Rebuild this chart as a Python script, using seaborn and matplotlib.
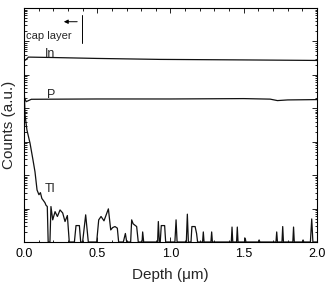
import matplotlib
matplotlib.use("Agg")
import matplotlib.pyplot as plt
import matplotlib.ticker as mticker
import seaborn as sns
import pandas as pd
import numpy as np

# ---- data ----
in_depth = [0.0, 0.01, 0.03, 0.2, 0.5, 0.93, 1.5, 2.0]
in_counts = [2.9e5, 2.75e5, 3.4e5, 3.3e5, 3.1e5, 2.9e5, 2.8e5, 2.7e5]

p_depth = [0.0, 0.015, 0.05, 0.5, 1.0, 1.5, 1.68, 1.73, 1.80, 2.0]
p_counts = [22000, 15800, 18600, 19000, 19000, 19500, 18800, 17000, 17800, 18200]

tl_depth = [0.000, 0.004, 0.007, 0.020, 0.041, 0.061, 0.075, 0.089, 0.102, 0.112,
            0.122, 0.130, 0.143, 0.150, 0.159, 0.165, 0.177, 0.184, 0.196, 0.212,
            0.228, 0.246, 0.264, 0.280, 0.296, 0.309, 0.344, 0.355, 0.378, 0.387,
            0.400, 0.421, 0.439, 0.496, 0.510, 0.526, 0.546, 0.576, 0.592, 0.605,
            0.621, 0.637, 0.646, 0.678, 0.692, 0.701, 0.728, 0.735, 0.745, 0.769,
            0.780, 0.806, 0.810, 0.817, 0.912, 0.917, 0.924, 0.930, 0.937, 0.960,
            0.967, 1.030, 1.038, 1.045, 1.108, 1.115, 1.122, 1.140, 1.146, 1.168,
            1.178, 1.185, 1.219, 1.224, 1.229, 1.276, 1.281, 1.286, 1.415, 1.420,
            1.425, 1.451, 1.456, 1.461, 1.505, 1.510, 1.515, 1.600, 1.605, 1.610,
            1.720, 1.725, 1.730, 1.761, 1.766, 1.771, 1.835, 1.840, 1.845, 1.900,
            1.905, 1.910, 1.955, 1.964, 1.972, 2.000]
tl_counts = [79000, 16000, 6300, 2240, 910, 290, 126, 36, 26, 30,
             20, 18, 15, 12.6, 11.5, 1, 1, 11.5, 4.6, 8.1,
             5.8, 9.1, 7.4, 4.1, 6.2, 1, 1, 3.1, 3.1, 1,
             1, 6.5, 1, 1, 4.6, 5.8, 4.3, 9.8, 2.3, 2.7,
             2.9, 2.6, 1, 1, 1.8, 1, 1, 4.6, 3.5, 2.9,
             1, 1, 2.0, 1, 1, 4.1, 1, 1, 3.1, 3.1,
             1, 1, 4.6, 1, 1, 6.8, 1, 1, 2.9, 2.9,
             1.8, 1, 1, 2.0, 1, 1, 2.0, 1, 1, 2.8,
             1, 1, 2.8, 1, 1, 1.3, 1, 1, 1.15, 1,
             1, 2.0, 1, 1, 2.9, 1, 1, 2.8, 1, 1,
             1.15, 1, 1, 4.9, 1, 1]

xtick_values = [0.0, 0.5, 1.0, 1.5, 2.0]
xtick_labels = ["0.0", "0.5", "1.0", "1.5", "2.0"]

sns.set_style("ticks")
plt.rcParams["font.family"] = ["Liberation Sans", "DejaVu Sans"]

fig = plt.figure(figsize=(3.27, 2.89), dpi=100)
ax = fig.add_axes([0.0734, 0.1626, 0.896, 0.8097])

df_in = pd.DataFrame({"depth": in_depth, "counts": in_counts})
df_p = pd.DataFrame({"depth": p_depth, "counts": p_counts})
df_tl = pd.DataFrame({"depth": tl_depth, "counts": tl_counts})

for df in (df_in, df_p, df_tl):
    sns.lineplot(data=df, x="depth", y="counts", ax=ax, color="#111111",
                 linewidth=0.9, estimator=None, sort=False)

ax.set_yscale("log")
ax.set_ylim(1, 1e7)
ax.set_xlim(0, 2.0)

ax.set_xticks(xtick_values)
ax.set_xticklabels(xtick_labels)
ax.xaxis.set_minor_locator(mticker.MultipleLocator(0.1))
ax.yaxis.set_major_locator(mticker.LogLocator(base=10, numticks=20))
ax.yaxis.set_minor_locator(mticker.LogLocator(base=10, subs=np.arange(2, 10), numticks=20))
ax.yaxis.set_major_formatter(mticker.NullFormatter())
ax.yaxis.set_minor_formatter(mticker.NullFormatter())

ax.tick_params(which="both", direction="in", top=True, right=True, colors="black",
               width=0.6)
ax.tick_params(which="major", length=3.5, labelsize=9, pad=4)
ax.tick_params(which="minor", length=1.8)
for s in ax.spines.values():
    s.set_linewidth(0.8)
    s.set_color("black")

ax.set_xlabel("Depth (\u03bcm)", fontsize=11, labelpad=6)
ax.set_ylabel("Counts (a.u.)", fontsize=11, labelpad=2)

ax.text(0.145, 10**5.54, "In", fontsize=9, ha="left", va="baseline")
ax.text(0.157, 10**4.31, "P", fontsize=9, ha="left", va="baseline")
ax.text(0.143, 10**1.5, "Tl", fontsize=9, ha="left", va="baseline")
ax.text(0.012, 10**6.08, "cap layer", fontsize=8, ha="left", va="baseline")
ax.plot([0.396, 0.396], [10**5.96, 10**6.8], color="black", lw=0.7)
ax.annotate("", xy=(0.253, 10**6.59), xytext=(0.382, 10**6.59),
            arrowprops=dict(arrowstyle="-|>", color="black", lw=0.7,
                            mutation_scale=6))

fig.savefig("out.png", dpi=100)
